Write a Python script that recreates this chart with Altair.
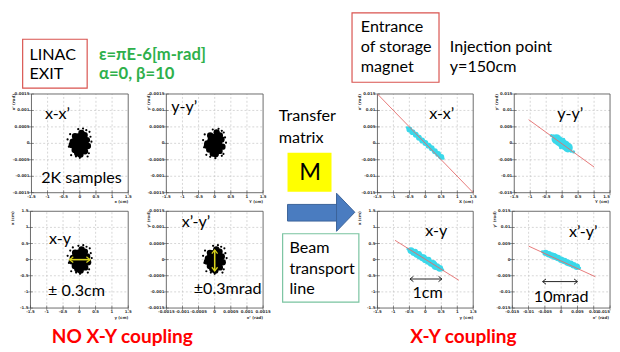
import altair as alt
import pandas as pd

W, H = 618, 344
MX = 8 - (W - 604) / 2   # the over-wide view is centred in the 604px body
MY = 8                   # vertical page margin
FONT = "Lato"
AXFONT = "DejaVu Sans"
TS = 16.5  # slide text size

# ---------------- tick sets ----------------
cm_ticks = [-1.5, -1, -0.5, 0, 0.5, 1, 1.5]
cm_labels = ["-1.5", "-1", "-0.5", "0", "0.5", "1", "1.5"]
mrad_ticks = [-0.0015, -0.001, -0.0005, 0, 0.0005, 0.001, 0.0015]
mrad_labels = ["-0.0015", "-0.001", "-0.0005", "0", "0.0005", "0.001", "0.0015"]
rad_ticks = [-0.015, -0.01, -0.005, 0, 0.005, 0.01, 0.015]
rad_labels = ["-0.015", "-0.01", "-0.005", "0", "0.005", "0.01", "0.015"]

# ---------------- slide texts ----------------
linac_lines = ["LINAC", "EXIT"]
twiss_lines = ["ε=πE-6[m-rad]", "α=0, β=10"]
entrance_lines = ["Entrance", "of storage", "magnet"]
injection_lines = ["Injection point", "y=150cm"]
transfer_lines = ["Transfer", "matrix"]
matrix_label = "M"
beam_lines = ["Beam", "transport", "line"]
footer_left = "NO X-Y coupling"
footer_right = "X-Y coupling"

# ---------------- left panels: black beam blobs ----------------
l1_core_x = [0.0, 0.0]
l1_core_y = [0.00008, -0.00008]
l1_edge_x = [0.22, -0.22, 0.05, -0.08, 0.15, -0.15, 0.16, -0.16, 0.02, 0.25, -0.25]
l1_edge_y = [0.0001, 0.00005, 0.00032, -0.0003, 0.00025, 0.00022, -0.00024, -0.0002, -0.00034, -0.00008, -0.00005]
l1_dots_x = [0.33, -0.34, 0.28, -0.30, 0.10, -0.05, 0.20, -0.12, 0.36, -0.27, 0.30, -0.38, 0.0, 0.24]
l1_dots_y = [0.0002, -0.0001, -0.0003, 0.00028, 0.00045, 0.00043, 0.0004, -0.0004, 0.00005, -0.00036, 0.00035, 0.00012, -0.00044, -0.0004]

l2_core_x = [0.0, 0.0]
l2_core_y = [0.00006, -0.00008]
l2_edge_x = [0.21, -0.23, 0.06, -0.06, 0.16, -0.14, 0.15, -0.17, 0.03, 0.24, -0.24]
l2_edge_y = [0.00012, 0.0, 0.00033, -0.00031, 0.00024, 0.00024, -0.00023, -0.00019, -0.00033, -0.0001, -0.00007]
l2_dots_x = [0.32, -0.33, 0.27, -0.31, 0.12, -0.06, 0.22, -0.14, 0.35, -0.26, 0.28, -0.36, 0.02, 0.22]
l2_dots_y = [0.00018, -0.00012, -0.00032, 0.00027, 0.00044, 0.00042, 0.00038, -0.00041, 0.00002, -0.00035, 0.00033, 0.0001, -0.00045, -0.00038]

l3_core_x = [0.02, 0.02]
l3_core_y = [0.08, -0.08]
l3_edge_x = [0.24, -0.2, 0.07, -0.06, 0.17, -0.13, 0.18, -0.14, 0.04, 0.27, -0.23]
l3_edge_y = [0.1, 0.05, 0.32, -0.3, 0.25, 0.22, -0.24, -0.2, -0.34, -0.08, -0.05]
l3_dots_x = [0.35, -0.32, 0.3, -0.28, 0.12, -0.03, 0.22, -0.1, 0.38, -0.25, 0.32, -0.36, 0.02, 0.26, -0.2]
l3_dots_y = [0.2, -0.1, -0.3, 0.28, 0.45, 0.43, 0.4, -0.4, 0.05, -0.36, 0.35, 0.12, -0.44, -0.4, 0.38]

l4_core_x = [0.0, 0.0]
l4_core_y = [0.00007, -0.00007]
l4_edge_x = [0.00022, -0.00021, 0.00005, -0.00007, 0.00015, -0.00015, 0.00016, -0.00015, 0.00002, 0.00025, -0.00024]
l4_edge_y = [0.0001, 0.00004, 0.00032, -0.0003, 0.00025, 0.00021, -0.00024, -0.0002, -0.00034, -0.00008, -0.00006]
l4_dots_x = [0.00033, -0.00032, 0.00028, -0.0003, 0.0001, -0.00005, 0.0002, -0.00012, 0.00037, -0.00026, 0.0003, -0.00036, 0.0, 0.00024]
l4_dots_y = [0.0002, -0.0001, -0.0003, 0.00028, 0.00045, 0.00043, 0.0004, -0.0004, 0.00005, -0.00036, 0.00035, 0.00012, -0.00044, -0.0004]

l3_arrow_x = [-0.3, 0.33]
l3_arrow_y = [0.0, 0.0]
l4_arrow_x = [0.0, 0.0]
l4_arrow_y = [-0.00035, 0.0003]

# ---------------- right panels: cyan beam after transport ----------------
r1_spine_x = [-0.5, -0.4, -0.3, -0.2, -0.1, 0.0, 0.1, 0.2, 0.3, 0.4, 0.5]
r1_spine_y = [0.0042, 0.0034, 0.0026, 0.0017, 0.0009, 0.0001, -0.0007, -0.0015, -0.0024, -0.0032, -0.0041]
r1_dots_x = [-0.57, 0.56, -0.46, 0.45, 0.15, -0.2]
r1_dots_y = [0.0048, -0.0046, 0.0044, -0.0042, -0.0006, 0.0022]
r1_line_x = [-1.5, 1.5]
r1_line_y = [0.015, -0.015]

r2_spine_x = [-0.18, -0.09, 0.0, 0.09, 0.18]
r2_spine_y = [0.0013, 0.0006, 0.0, -0.0006, -0.0013]
r2_dots_x = [-0.34, 0.36, 0.28, -0.28, 0.05, -0.05]
r2_dots_y = [0.0024, -0.0026, -0.0024, 0.0023, 0.0012, -0.0013]
r2_line_x = [-1.05, 1.0]
r2_line_y = [0.0072, -0.0072]

r3_spine_x = [-0.45, -0.36, -0.27, -0.18, -0.09, 0.0, 0.09, 0.18, 0.27, 0.36, 0.45]
r3_spine_y = [0.28, 0.22, 0.17, 0.11, 0.06, 0.0, -0.05, -0.11, -0.16, -0.22, -0.27]
r3_extra_x = [-0.2, -0.05, 0.1, 0.25, -0.32, 0.3]
r3_extra_y = [0.18, 0.08, 0.0, -0.1, 0.25, -0.22]
r3_dots_x = [-0.55, 0.55, 0.42, -0.42]
r3_dots_y = [0.33, -0.32, -0.3, 0.29]
r3_line_x = [-0.95, 1.05]
r3_line_y = [0.6, -0.64]
r3_arrow_x = [-0.48, 0.52]
r3_arrow_y = [-0.6, -0.6]

r4_spine_x = [-0.0048, -0.0038, -0.0029, -0.0019, -0.001, 0.0, 0.001, 0.0019, 0.0029, 0.0038, 0.0048]
r4_spine_y = [0.0021, 0.0017, 0.0013, 0.0009, 0.0005, 0.0, -0.0004, -0.0009, -0.0013, -0.0017, -0.0022]
r4_dots_x = [-0.0058, 0.0057, -0.002, 0.002]
r4_dots_y = [0.0025, -0.0026, 0.0016, -0.0016]
r4_line_x = [-0.01, 0.0105]
r4_line_y = [0.0042, -0.0053]
r4_arrow_x = [-0.0057, 0.005]
r4_arrow_y = [-0.0068, -0.0068]

HEAD_L = "M0.9,-0.7L0,0L0.9,0.7"
HEAD_R = "M-0.9,-0.7L0,0L-0.9,0.7"
HEAD_U = "M-0.7,0.9L0,0L0.7,0.9"
HEAD_D = "M-0.7,-0.9L0,0L0.7,-0.9"
TRI = "M-0.48,-1L0.48,0L-0.48,1Z"

BLACK = "#000000"
CYAN = "#3AD8EA"
REDLINE = "#E46A6A"
YELLOW = "#D8D21C"


# ---------------- panel building helpers ----------------
def pts(xv, yv, color, size, opacity=1.0):
    def f(X, Y):
        return alt.Chart(pd.DataFrame({"x": xv, "y": yv})).mark_circle(
            color=color, size=size, opacity=opacity
        ).encode(x=X("x"), y=Y("y"))
    return f


def seg(xv, yv, color, width):
    def f(X, Y):
        return alt.Chart(pd.DataFrame({"x": xv, "y": yv})).mark_line(
            color=color, strokeWidth=width
        ).encode(x=X("x"), y=Y("y"))
    return f


def head(xv, yv, shape, color, size=110, width=1.3):
    def f(X, Y):
        return alt.Chart(pd.DataFrame({"x": [xv], "y": [yv]})).mark_point(
            shape=shape, filled=False, color=color, size=size, strokeWidth=width, opacity=1
        ).encode(x=X("x"), y=Y("y"))
    return f


def label(txt, xv, yv, size=TS, align="left"):
    def f(X, Y):
        return alt.Chart(pd.DataFrame({"t": [txt], "x": [xv], "y": [yv]})).mark_text(
            align=align, baseline="middle", font=FONT, fontSize=size, color="black"
        ).encode(x=X("x"), y=Y("y"), text="t:N")
    return f


def panel(frame, xt, xl, yt, yl, xtitle, ytitle, parts, edge=False):
    L, R, T, B = frame[0] - MX, frame[1] - MX, frame[2] - MY, frame[3] - MY
    xs = alt.Scale(domain=[xt[0], xt[-1]], range=[L, R], nice=False, zero=False)
    ys = alt.Scale(domain=[yt[0], yt[-1]], range=[B, T], nice=False, zero=False)

    def X(f):
        return alt.X(f, type="quantitative", scale=xs, axis=None)

    def Y(f):
        return alt.Y(f, type="quantitative", scale=ys, axis=None)

    axtext = dict(font=AXFONT, fontSize=4, fontWeight="bold", color="#333")
    vg = pd.DataFrame({"g": xt[1:-1], "lo": yt[0], "hi": yt[-1]})
    hg = pd.DataFrame({"g": yt[1:-1], "lo": xt[0], "hi": xt[-1]})
    grid_v = alt.Chart(vg).mark_rule(color="#c4c4c4", strokeWidth=0.7, strokeDash=[2, 2]).encode(
        x=X("g"), y=Y("lo"), y2="hi")
    grid_h = alt.Chart(hg).mark_rule(color="#c4c4c4", strokeWidth=0.7, strokeDash=[2, 2]).encode(
        y=Y("g"), x=X("lo"), x2="hi")
    fr = pd.DataFrame({"x0": [xt[0]], "x1": [xt[-1]], "y0": [yt[0]], "y1": [yt[-1]]})
    frame_layer = alt.Chart(fr).mark_rect(fill="transparent", stroke="#5a5a5a", strokeWidth=0.9).encode(
        x=X("x0"), x2="x1", y=Y("y0"), y2="y1")
    # tick marks (ROOT style)
    xtk = pd.DataFrame({"v": xt, "b": yt[0]})
    ytk = pd.DataFrame({"v": yt, "b": xt[0]})
    xticks = alt.Chart(xtk).mark_tick(orient="vertical", size=5, thickness=0.8, color="#444").encode(
        x=X("v"), y=Y("b"))
    yticks = alt.Chart(ytk).mark_tick(orient="horizontal", size=5, thickness=0.8, color="#444").encode(
        y=Y("v"), x=X("b"))
    # tick labels
    nx = len(xt) - 1 if edge else len(xt)
    xlab = pd.DataFrame({"v": xt[:nx], "b": yt[0], "t": xl[:nx]})
    ylab = pd.DataFrame({"v": yt, "b": xt[0], "t": yl})
    xlabels = alt.Chart(xlab).mark_text(align="center", baseline="top", dy=2, **axtext).encode(
        x=X("v"), y=Y("b"), text="t:N")
    ylabels = alt.Chart(ylab).mark_text(align="right", baseline="middle", dx=-2, **axtext).encode(
        y=Y("v"), x=X("b"), text="t:N")
    layers = [grid_v, grid_h, frame_layer, xticks, yticks, xlabels, ylabels]
    if edge:
        xlast = pd.DataFrame({"v": [xt[-1]], "b": [yt[0]], "t": [xl[-1]]})
        layers.append(alt.Chart(xlast).mark_text(align="right", baseline="top", dy=2, **axtext).encode(
            x=X("v"), y=Y("b"), text="t:N"))
    # axis titles
    xtt = pd.DataFrame({"x": [xt[-1]], "y": [yt[0]], "t": [xtitle]})
    ytt = pd.DataFrame({"x": [xt[0]], "y": [yt[-1]], "t": [ytitle]})
    layers.append(alt.Chart(xtt).mark_text(align="right", baseline="top", dy=8, dx=-1 if edge else 0,
                                           **axtext).encode(x=X("x"), y=Y("y"), text="t:N"))
    layers.append(alt.Chart(ytt).mark_text(align="right", baseline="bottom", angle=270, dy=-16,
                                           **axtext).encode(x=X("x"), y=Y("y"), text="t:N"))
    layers += [p(X, Y) for p in parts]
    return alt.layer(*layers)


def blob(cx, cy, ex, ey, dx, dy):
    return [pts(cx, cy, BLACK, 250), pts(ex, ey, BLACK, 42), pts(dx, dy, BLACK, 5)]


panels = [
    panel((25, 124, 92, 193), cm_ticks, cm_labels, mrad_ticks, mrad_labels, "x (cm)", "x’ (rad)",
          blob(l1_core_x, l1_core_y, l1_edge_x, l1_edge_y, l1_dots_x, l1_dots_y)
          + [label("x-x’", -1.08, 0.0009), label("2K samples", -1.2, -0.00105)]),
    panel((163, 262, 92, 193), cm_ticks, cm_labels, mrad_ticks, mrad_labels, "Y (cm)", "y’ (rad)",
          blob(l2_core_x, l2_core_y, l2_edge_x, l2_edge_y, l2_dots_x, l2_dots_y)
          + [label("y-y’", -1.35, 0.00111)]),
    panel((24, 124, 212, 311), cm_ticks, cm_labels, cm_ticks, cm_labels, "y (cm)", "x (cm)",
          blob(l3_core_x, l3_core_y, l3_edge_x, l3_edge_y, l3_dots_x, l3_dots_y)
          + [seg(l3_arrow_x, l3_arrow_y, YELLOW, 1.6),
             head(l3_arrow_x[0], l3_arrow_y[0], HEAD_L, YELLOW, 70),
             head(l3_arrow_x[1], l3_arrow_y[1], HEAD_R, YELLOW, 70),
             label("x-y", -0.93, 0.65), label("± 0.3cm", -0.96, -0.98)]),
    panel((163, 262, 212, 311), mrad_ticks, mrad_labels, mrad_ticks, mrad_labels, "x’ (rad)", "y’ (rad)",
          blob(l4_core_x, l4_core_y, l4_edge_x, l4_edge_y, l4_dots_x, l4_dots_y)
          + [seg(l4_arrow_x, l4_arrow_y, YELLOW, 1.6),
             head(l4_arrow_x[1], l4_arrow_y[1], HEAD_U, YELLOW, 70),
             head(l4_arrow_x[0], l4_arrow_y[0], HEAD_D, YELLOW, 70),
             label("x’-y’", -0.00102, 0.00117), label("±0.3mrad", -0.00065, -0.00092)]),
    panel((379, 477, 92, 193), cm_ticks, cm_labels, rad_ticks, rad_labels, "X (cm)", "x’ (rad)",
          [pts(r1_spine_x, r1_spine_y, CYAN, 36), pts(r1_dots_x, r1_dots_y, CYAN, 8),
           seg(r1_line_x, r1_line_y, REDLINE, 0.9), label("x-x’", 0.12, 0.0088)]),
    panel((519, 617, 92, 193), cm_ticks, cm_labels, rad_ticks, rad_labels, "Y (cm)", "y’ (rad)",
          [pts(r2_spine_x, r2_spine_y, CYAN, 100), pts(r2_dots_x, r2_dots_y, CYAN, 10),
           seg(r2_line_x, r2_line_y, REDLINE, 0.9), label("y-y’", -0.155, 0.0088)], edge=True),
    panel((379, 477, 212, 311), cm_ticks, cm_labels, cm_ticks, cm_labels, "y (cm)", "x (cm)",
          [pts(r3_spine_x, r3_spine_y, CYAN, 50), pts(r3_extra_x, r3_extra_y, CYAN, 36),
           pts(r3_dots_x, r3_dots_y, CYAN, 8),
           seg(r3_line_x, r3_line_y, REDLINE, 0.9),
           seg(r3_arrow_x, r3_arrow_y, "#222", 1.0),
           head(r3_arrow_x[0], r3_arrow_y[0], HEAD_L, "#222", 60, 1.0),
           head(r3_arrow_x[1], r3_arrow_y[1], HEAD_R, "#222", 60, 1.0),
           label("x-y", 0.0, 0.9), label("1cm", 0.07, -1.05, align="center")]),
    panel((517, 617, 212, 311), rad_ticks, rad_labels, rad_ticks, rad_labels, "x’ (rad)", "y’ (rad)",
          [pts(r4_spine_x, r4_spine_y, CYAN, 44), pts(r4_dots_x, r4_dots_y, CYAN, 8),
           seg(r4_line_x, r4_line_y, REDLINE, 0.9),
           seg(r4_arrow_x, r4_arrow_y, "#222", 1.0),
           head(r4_arrow_x[0], r4_arrow_y[0], HEAD_L, "#222", 60, 1.0),
           head(r4_arrow_x[1], r4_arrow_y[1], HEAD_R, "#222", 60, 1.0),
           label("x’-y’", 0.0024, 0.0086), label("10mrad", 0.0, -0.0117, align="center")], edge=True),
]

# ---------------- slide-level annotations ----------------
one = pd.DataFrame({"k": [0]})


def box(x0, x1, y0, y1, fill, stroke, sw=1.2):
    return alt.Chart(one).mark_rect(fill=fill, stroke=stroke, strokeWidth=sw).encode(
        x=alt.value(x0 - MX), x2=alt.value(x1 - MX), y=alt.value(y0 - MY), y2=alt.value(y1 - MY))


def txt(s, x, y, size=TS, color="black", weight="normal", align="left"):
    return alt.Chart(one).mark_text(align=align, baseline="middle", font=FONT, fontSize=size,
                                    fontWeight=weight, color=color).encode(
        x=alt.value(x - MX), y=alt.value(y - MY), text=alt.value(s))


slide = [
    box(16, 82, 36, 86, "white", "#D9534F"),
    txt(linac_lines[0], 23, 52), txt(linac_lines[1], 23, 72),
    txt(twiss_lines[0], 94, 52, 17, "#2EB04B", "bold"),
    txt(twiss_lines[1], 94, 72, 17, "#2EB04B", "bold"),
    box(353, 442, 9, 80, "white", "#D9534F"),
    txt(entrance_lines[0], 362, 24), txt(entrance_lines[1], 362, 44), txt(entrance_lines[2], 362, 65),
    txt(injection_lines[0], 453, 44), txt(injection_lines[1], 453, 65),
    txt(transfer_lines[0], 278, 115), txt(transfer_lines[1], 278, 137),
    box(287, 332, 152, 192, "#FFFF00", "#FFFF00", 0),
    txt(matrix_label, 310, 173, 24, align="center"),
    box(287, 338, 205, 222, "#4A7CC0", "#3A6299", 1),
    alt.Chart(one).mark_point(shape=TRI, filled=True, size=1521, color="#4A7CC0", stroke="#3A6299",
                              strokeWidth=1, opacity=1).encode(x=alt.value(346.5 - MX), y=alt.value(213 - MY)),
    box(282, 360, 235, 305, "white", "#79C3A0"),
    txt(beam_lines[0], 289, 250), txt(beam_lines[1], 289, 271), txt(beam_lines[2], 289, 292),
    txt(footer_left, 118, 341, 19.5, "#FF0000", "bold", "center"),
    txt(footer_right, 467, 341, 19.5, "#FF0000", "bold", "center"),
]

chart = alt.layer(*slide, *panels).resolve_scale(x="independent", y="independent").properties(
    width=W, height=H, padding=0, autosize=alt.AutoSizeParams(type="none")
).configure_view(stroke="transparent")

chart.save("out.html", embed_options={"renderer": "svg", "actions": False})
